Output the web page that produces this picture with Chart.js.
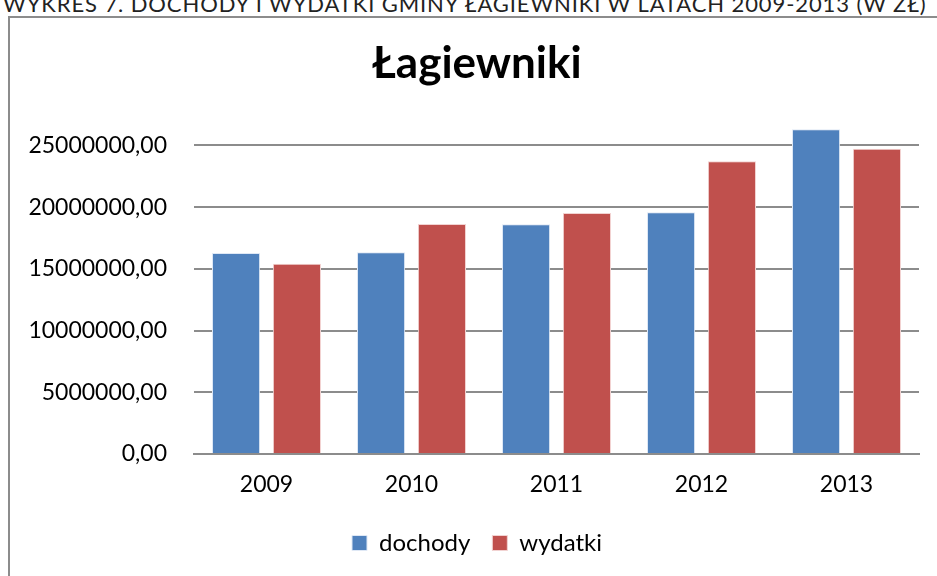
<!DOCTYPE html>
<html>
<head>
<meta charset="utf-8">
<script src="https://cdn.jsdelivr.net/npm/chart.js@4.4.1/dist/chart.umd.min.js"></script>
<style>
  body { margin: 0; background: #fff; overflow: hidden; }
  #caption {
    position: absolute; left: 3px; top: -10px; white-space: nowrap;
    font-family: Lato, sans-serif; font-size: 22px; color: #222; letter-spacing: 0.9px;
  }
  #frame {
    position: absolute; left: 8px; top: 16px; width: 960px; height: 600px;
    border: 2px solid #8c8c8c; box-sizing: border-box;
  }
  #wrap { position: absolute; left: 0; top: 0; width: 937px; height: 576px; }
</style>
</head>
<body>
<div id="caption">WYKRES 7. DOCHODY I WYDATKI GMINY ŁAGIEWNIKI W LATACH 2009-2013 (W ZŁ)</div>
<div id="frame"></div>
<div id="wrap"><canvas id="barChart" width="937" height="576"></canvas></div>
<script>
var years = ['2009', '2010', '2011', '2012', '2013'];
var dochody = [16280000, 16340000, 18620000, 19580000, 26310000];
var wydatki = [15420000, 18630000, 19530000, 23720000, 24730000];
var yTicks = [0, 5000000, 10000000, 15000000, 20000000, 25000000];

var ctx = document.getElementById('barChart').getContext('2d');
var barChart = new Chart(ctx, {
    type: 'bar',
    data: {
        labels: years,
        datasets: [{
            label: 'dochody',
            data: dochody,
            backgroundColor: '#4F81BD',
            borderColor: '#dfe8f5',
            borderWidth: 1
        }, {
            label: 'wydatki',
            data: wydatki,
            backgroundColor: '#C0504D',
            borderColor: '#f2d3d2',
            borderWidth: 1
        }]
    },
    options: {
        responsive: false,
        animation: false,
        layout: {
            padding: { left: 35, right: 18, top: 20, bottom: 11 }
        },
        datasets: {
            bar: { categoryPercentage: 0.84, barPercentage: 0.79 }
        },
        scales: {
            y: {
                min: 0,
                max: 27000000,
                afterBuildTicks: function (axis) {
                    axis.ticks = yTicks.map(function (v) { return { value: v }; });
                },
                afterFit: function (axis) {
                    axis.width = 159;
                    // labels are wider than the axis box, so don't clip them
                    axis._computeLabelArea = function () {};
                },
                grid: { color: '#8c8c8c', lineWidth: 2, drawTicks: false },
                border: { display: false },
                ticks: {
                    padding: 27,
                    color: '#000',
                    font: { family: 'Lato', size: 23 },
                    callback: function (v) { return v.toFixed(2).replace('.', ','); }
                }
            },
            x: {
                afterFit: function (axis) { axis.height = 55; },
                grid: { display: false, drawTicks: false },
                border: { color: '#8c8c8c', width: 2 },
                ticks: {
                    padding: 17,
                    color: '#000',
                    font: { family: 'Lato', size: 23 }
                }
            }
        },
        plugins: {
            title: {
                display: true,
                text: 'Łagiewniki',
                color: '#000',
                font: { family: 'Lato', size: 44, weight: 'bold' },
                padding: { top: 17, bottom: 31 }
            },
            legend: {
                position: 'bottom',
                labels: {
                    color: '#000',
                    font: { family: 'Lato', size: 24 },
                    boxWidth: 15,
                    boxHeight: 15,
                    padding: 22
                }
            },
            tooltip: { enabled: false }
        }
    }
});
</script>
</body>
</html>
